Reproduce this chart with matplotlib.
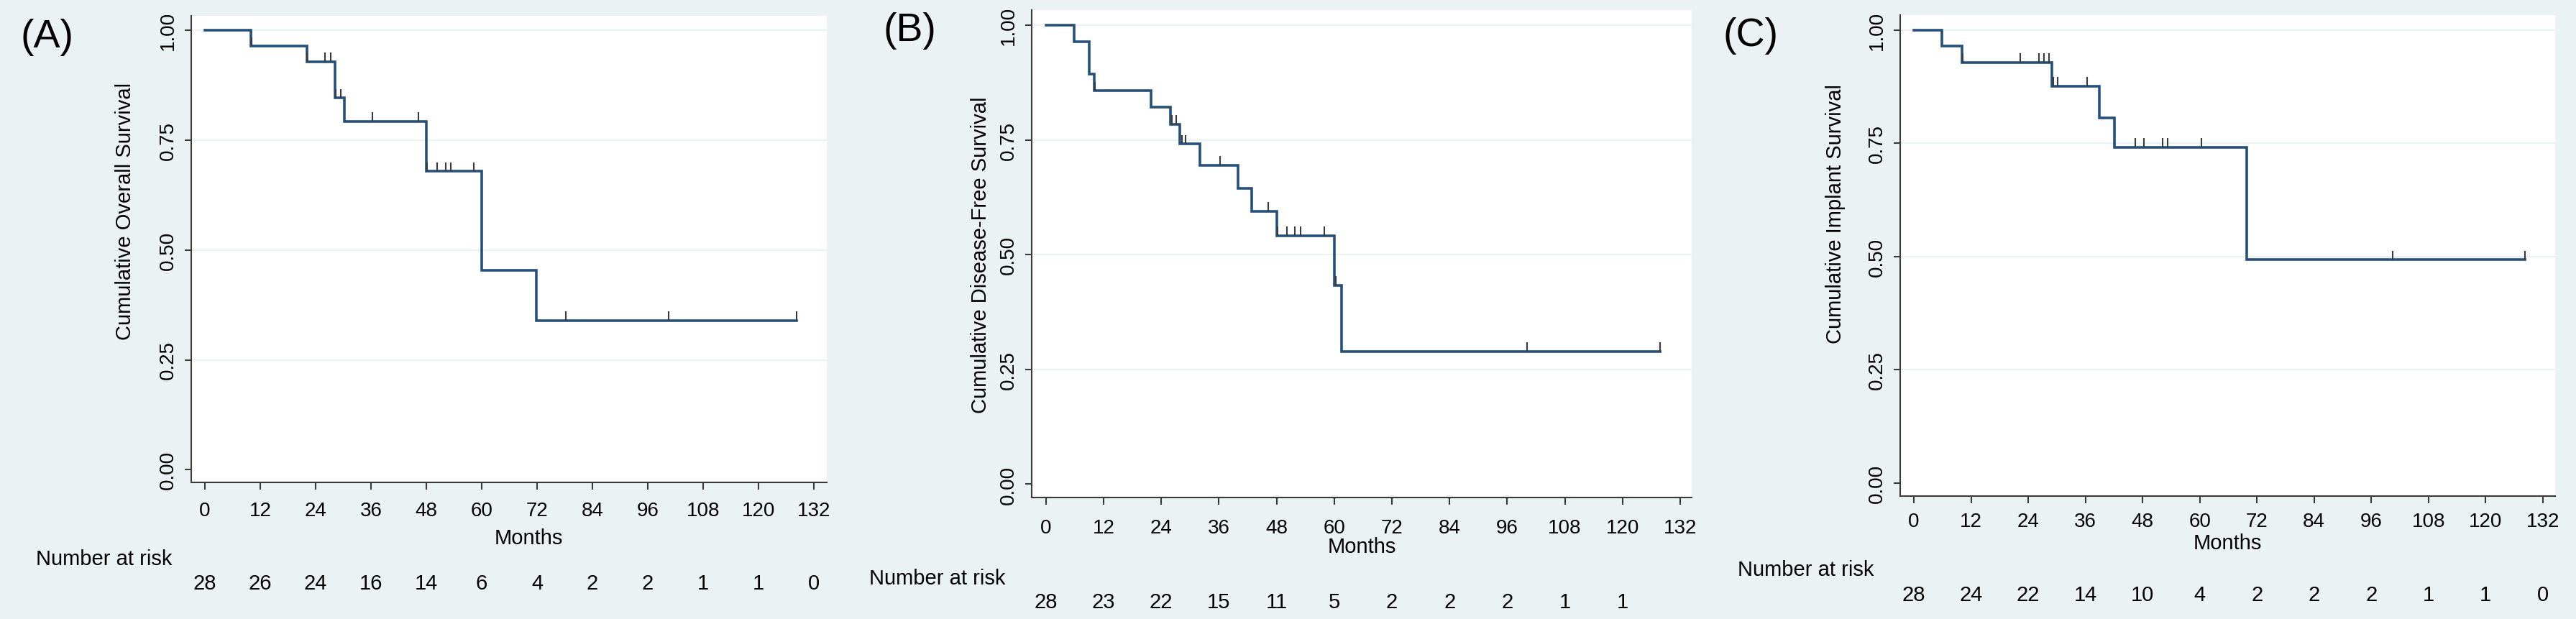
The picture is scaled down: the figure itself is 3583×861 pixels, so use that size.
import numpy as np
import matplotlib
matplotlib.use("Agg")
import matplotlib.pyplot as plt
import matplotlib.transforms as mtransforms

plt.rcParams['font.family'] = ['Liberation Sans', 'DejaVu Sans']

# ---- data ----
ticks_x = [0, 12, 24, 36, 48, 60, 72, 84, 96, 108, 120, 132]
ticks_y = [0.00, 0.25, 0.50, 0.75, 1.00]

# (A) overall survival
times_a = [0, 10.0, 22.1, 28.2, 30.3, 48.0, 60.0, 71.8, 128.2]
surv_a = [1.0, 0.964, 0.929, 0.846, 0.793, 0.680, 0.454, 0.340, 0.340]
cens_a = [10.1, 22.2, 26.1, 27.3, 28.4, 29.4, 36.3, 46.3, 48.2, 50.4, 52.2,
          53.3, 58.3, 78.2, 100.5, 128.2]
risk_a = [28, 26, 24, 16, 14, 6, 4, 2, 2, 1, 1, 0]

# (B) disease-free survival
times_b = [0, 5.9, 9.0, 10.0, 21.9, 25.9, 27.9, 32.1, 40.0, 42.9, 48.1,
           60.1, 61.6, 127.8]
surv_b = [1.0, 0.964, 0.893, 0.857, 0.821, 0.784, 0.741, 0.695, 0.644,
          0.595, 0.541, 0.433, 0.289, 0.289]
cens_b = [10.2, 26.3, 27.1, 28.3, 29.1, 36.3, 46.2, 48.2, 50.1, 51.8, 53.0,
          58.0, 60.3, 100.1, 127.8]
risk_b = [28, 23, 22, 15, 11, 5, 2, 2, 2, 1, 1]

# (C) implant survival
times_c = [0, 5.9, 10.1, 28.9, 39.0, 42.1, 69.8, 128.3]
surv_c = [1.0, 0.964, 0.929, 0.876, 0.806, 0.741, 0.493, 0.493]
cens_c = [10.2, 22.3, 26.3, 27.3, 28.4, 29.2, 30.2, 36.3, 46.4, 48.3, 52.2,
          53.3, 60.4, 100.5, 128.3]
risk_c = [28, 24, 22, 14, 10, 4, 2, 2, 2, 1, 1, 0]

bg = '#EAF2F3'
line_col = '#26507C'

W, H = 3583, 862
fig = plt.figure(figsize=(W / 100, H / 100), dpi=100, facecolor=bg)

panels = [
    dict(letter='(A)', ylabel='Cumulative Overall Survival',
         t=times_a, s=surv_a, c=cens_a, risk=risk_a,
         box=(266, 1150, 23, 672), xlim=(-2.96, 134.8), xpad=11.5,
         letter_xy=(65, 52), ylab_xy=(174, 294), months_xy=(735, 749),
         nar_x=50, nar_y=778, num_y=812),
    dict(letter='(B)', ylabel='Cumulative Disease-Free Survival',
         t=times_b, s=surv_b, c=cens_b, risk=risk_b,
         box=(1435, 2353, 15, 693), xlim=(-2.95, 134.4), xpad=13.5,
         letter_xy=(1265, 43), ylab_xy=(1364, 355), months_xy=(1894, 761),
         nar_x=1209, nar_y=805, num_y=838),
    dict(letter='(C)', ylabel='Cumulative Implant Survival',
         t=times_c, s=surv_c, c=cens_c, risk=risk_c,
         box=(2643, 3554, 22, 691), xlim=(-2.87, 134.6), xpad=8.5,
         letter_xy=(2435, 50), ylab_xy=(2553, 297), months_xy=(3098, 756),
         nar_x=2417, nar_y=793, num_y=828),
]

def fx(px):
    return px / W

def fy(py):
    return 1 - py / H

for p in panels:
    x0, x1, y0, y1 = p['box']
    ax = fig.add_axes([fx(x0), fy(y1), (x1 - x0) / W, (y1 - y0) / H])
    ax.set_facecolor('white')
    ax.set_xlim(*p['xlim'])
    ax.set_ylim(-0.029, 1.033)

    for v in ticks_y[1:]:
        ax.axhline(v, color=bg, lw=1.6, zorder=1)

    t = np.array(p['t'])
    s = np.array(p['s'])
    ax.step(t, s, where='post', color=line_col, lw=2.6, zorder=3,
            solid_joinstyle='miter')
    c = np.array(p['c'])
    lvl = s[np.searchsorted(t, c, side='right') - 1]
    ax.vlines(c, lvl, lvl + 0.02, colors='#3a3a3a', lw=1.5, zorder=4)

    for side in ['top', 'right']:
        ax.spines[side].set_visible(False)
    for side in ['left', 'bottom']:
        ax.spines[side].set_color('#3a3a3a')
        ax.spines[side].set_linewidth(1.5)

    ax.set_xticks(ticks_x)
    ax.set_xticklabels([str(v) for v in ticks_x])
    ax.set_yticks(ticks_y)
    ax.set_yticklabels(['%.2f' % v for v in ticks_y], rotation=90, va='center')
    ax.tick_params(axis='x', direction='out', length=7.5, width=1.5,
                   color='#3a3a3a', labelsize=20, pad=p['xpad'])
    ax.tick_params(axis='y', direction='out', length=6.5, width=1.5,
                   color='#3a3a3a', labelsize=20, pad=7)

    fig.text(fx(p['letter_xy'][0]), fy(p['letter_xy'][1]), p['letter'],
             fontsize=40, ha='center', va='center')
    fig.text(fx(p['ylab_xy'][0]), fy(p['ylab_xy'][1]), p['ylabel'],
             fontsize=21, rotation=90, ha='center', va='center')
    fig.text(fx(p['months_xy'][0]), fy(p['months_xy'][1]), 'Months',
             fontsize=21, ha='center', va='center')
    fig.text(fx(p['nar_x']), fy(p['nar_y']), 'Number at risk',
             fontsize=21, ha='left', va='center')

    trans = mtransforms.blended_transform_factory(ax.transData, fig.transFigure)
    for xv, n in zip(ticks_x, p['risk']):
        ax.text(xv, fy(p['num_y']), str(n), transform=trans, fontsize=21,
                ha='center', va='center', clip_on=False)

fig.savefig('out.png', dpi=100, facecolor=bg)
